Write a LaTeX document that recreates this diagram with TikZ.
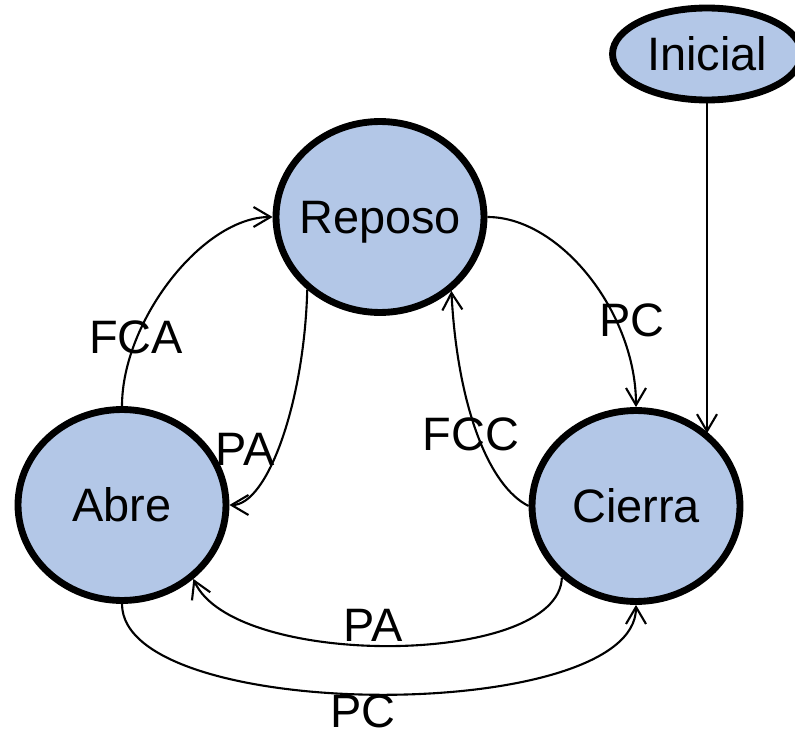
\documentclass[tikz,border=0pt]{standalone}
\usepackage{fontspec}
\setmainfont{Liberation Sans}
\usetikzlibrary{shapes,arrows.meta}
\definecolor{statefill}{RGB}{179,199,231}

\begin{document}
\begin{tikzpicture}[
    x=0.02cm, y=0.02cm,
    big/.style={font=\fontsize{26.7}{32}\selectfont, text height=19pt, text depth=0pt, inner sep=0pt},
    state/.style={big, ellipse, draw, line width=3.9pt, fill=statefill, inner xsep=-10pt, minimum width=4.16cm, minimum height=3.82cm},
    start/.style={state, minimum width=3.78cm, minimum height=1.84cm},
    lbl/.style={big},
    arrow/.style={-{Straight Barb[length=3.4mm,width=4mm]}, line width=1.2pt}
]
    \useasboundingbox (0,0) rectangle (795,735);

    \node[start] (inicial) at (707,681) {Inicial};
    \node[state] (reposo) at (380,518) {Reposo};
    \node[state] (abre) at (122,230) {Abre};
    \node[state] (cierra) at (636,229) {Cierra};

    \node[lbl] (fca) at (136,398) {FCA};
    \node[lbl] (paup) at (245,286) {PA};
    \node[lbl] (pcup) at (632,415) {PC};
    \node[lbl] (fcc) at (471,301) {FCC};
    \node[lbl] (palow) at (373,110) {PA};
    \node[lbl] (pclow) at (363,24) {PC};

    \draw[arrow] (inicial) -- (inicial |- cierra.45);
    \draw[arrow] (abre.north) .. controls +(0,85) and +(-70,0) .. (reposo.west);
    \draw[arrow] (reposo.225) .. controls +(-3,-113) and +(38,0) .. (abre.east);
    \draw[arrow] (reposo.east) .. controls +(73,0) and +(0,94) .. (cierra.north);
    \draw[arrow] (cierra.west) .. controls +(-40,20) and +(6,-115) .. (reposo.314);
    \draw[arrow] (cierra.224) .. controls +(-3,-90) and +(40,-90) .. (abre.314);
    \draw[arrow] (abre.south) .. controls +(0,-120) and +(0,-120) .. (cierra.south);
\end{tikzpicture}
\end{document}
